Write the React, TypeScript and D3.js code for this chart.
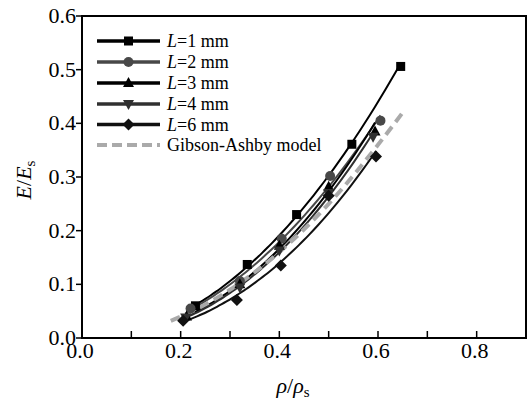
import React from "react";
import * as d3 from "d3";

const seriesNames = ["L=1 mm", "L=2 mm", "L=3 mm", "L=4 mm", "L=6 mm"];
const rhoL1 = [0.23, 0.335, 0.435, 0.547, 0.646];
const eL1 = [0.06, 0.137, 0.23, 0.361, 0.506];
const rhoL2 = [0.22, 0.32, 0.405, 0.503, 0.605];
const eL2 = [0.055, 0.106, 0.185, 0.302, 0.405];
const rhoL3 = [0.212, 0.32, 0.4, 0.5, 0.594];
const eL3 = [0.04, 0.1, 0.172, 0.282, 0.385];
const rhoL4 = [0.21, 0.32, 0.4, 0.5, 0.59];
const eL4 = [0.038, 0.094, 0.163, 0.27, 0.375];
const rhoL6 = [0.205, 0.314, 0.403, 0.5, 0.596];
const eL6 = [0.032, 0.071, 0.135, 0.265, 0.338];
const rhoGA = [0.18, 0.25, 0.3, 0.4, 0.5, 0.6, 0.65];
const eGA = [0.032, 0.0625, 0.09, 0.16, 0.25, 0.36, 0.42];
const xTicks = [0, 0.1, 0.2, 0.3, 0.4, 0.5, 0.6, 0.7, 0.8];
const xLabels = [0, 0.2, 0.4, 0.6, 0.8];
const yTicks = [0, 0.1, 0.2, 0.3, 0.4, 0.5, 0.6];

const series = [
  { name: seriesNames[0], x: rhoL1, y: eL1, color: "#000", sym: "square" },
  { name: seriesNames[1], x: rhoL2, y: eL2, color: "#484848", sym: "circle" },
  { name: seriesNames[2], x: rhoL3, y: eL3, color: "#000", sym: "triangle" },
  { name: seriesNames[3], x: rhoL4, y: eL4, color: "#303030", sym: "invtri" },
  { name: seriesNames[4], x: rhoL6, y: eL6, color: "#111", sym: "diamond" },
];

const FONT = "Liberation Serif, Times New Roman, DejaVu Serif, serif";

function fitPower(xs: number[], ys: number[]) {
  const lx = xs.map(Math.log);
  const ly = ys.map(Math.log);
  const mx = d3.mean(lx)!;
  const my = d3.mean(ly)!;
  let num = 0, den = 0;
  lx.forEach((v, i) => { num += (v - mx) * (ly[i] - my); den += (v - mx) * (v - mx); });
  const b = num / den;
  const a = Math.exp(my - b * mx);
  return (x: number) => a * Math.pow(x, b);
}

function Marker({ sym, cx, cy, color }: { sym: string; cx: number; cy: number; color: string }) {
  if (sym === "square") return <rect x={cx - 4.5} y={cy - 4.5} width={9} height={9} fill={color} />;
  if (sym === "circle") return <circle cx={cx} cy={cy} r={5} fill={color} />;
  if (sym === "triangle") return <path d={`M${cx},${cy - 6}L${cx + 5.5},${cy + 4}L${cx - 5.5},${cy + 4}Z`} fill={color} />;
  if (sym === "invtri") return <path d={`M${cx},${cy + 6}L${cx + 5.5},${cy - 4}L${cx - 5.5},${cy - 4}Z`} fill={color} />;
  return <path d={`M${cx},${cy - 6}L${cx + 6},${cy}L${cx},${cy + 6}L${cx - 6},${cy}Z`} fill={color} />;
}

export default function App() {
  const W = 528, H = 407;
  const left = 82, right = 526, top = 16, bottom = 338;
  const x = d3.scaleLinear().domain([0, 0.9]).range([left, right]);
  const y = d3.scaleLinear().domain([0, 0.6]).range([bottom, top]);
  const line = d3.line<[number, number]>().x(d => x(d[0])).y(d => y(d[1])).curve(d3.curveMonotoneX);

  const legendRows = [41, 62, 83, 104, 124.5, 145];
  const tStyle = { fontFamily: FONT };

  return (
    <svg width={W} height={H} style={{ position: "absolute", left: 0, top: 0, background: "#fff", fontFamily: FONT }}>
      {series.map((s, i) => {
        const f = fitPower(s.x, s.y);
        const x0 = d3.min(s.x)!, x1 = d3.max(s.x)!;
        const pts: [number, number][] = d3.range(0, 41).map(k => {
          const xv = x0 + (x1 - x0) * k / 40;
          return [xv, f(xv)];
        });
        return <path key={"c" + i} d={line(pts)!} fill="none" stroke={s.color} strokeWidth={2} />;
      })}
      <path d={d3.line<number>().x((d, i) => x(rhoGA[i])).y(d => y(d)).curve(d3.curveMonotoneX)(eGA)!} fill="none" stroke="#aaaaaa" strokeWidth={4} strokeDasharray="10,6" />
      {series.map((s, i) => s.x.map((xv, j) => (
        <Marker key={`m${i}-${j}`} sym={s.sym} cx={x(xv)} cy={y(s.y[j])} color={s.color} />
      )))}
      <rect x={left} y={top} width={right - left} height={bottom - top} fill="none" stroke="#000" strokeWidth={2} />
      {xTicks.map(t => (
        <line key={"xt" + t} x1={x(t)} x2={x(t)} y1={bottom} y2={bottom - 7} stroke="#000" strokeWidth={1.5} />
      ))}
      {xLabels.map(t => (
        <text key={"xl" + t} style={tStyle} x={x(t) - 2} y={358} textAnchor="middle" fontSize={22} fill="#000">{t.toFixed(1)}</text>
      ))}
      {yTicks.map(t => (
        <g key={"yt" + t}>
          <line x1={left - 6} x2={left} y1={y(t)} y2={y(t)} stroke="#000" strokeWidth={1.5} />
          <text style={tStyle} x={76} y={y(t) + 7} textAnchor="end" fontSize={22} fill="#000">{t.toFixed(1)}</text>
        </g>
      ))}
      <text style={tStyle} x={293} y={393} textAnchor="middle" fontSize={22} fill="#000">
        <tspan fontStyle="italic">ρ</tspan>/<tspan fontStyle="italic">ρ</tspan><tspan fontSize={15} dy={4}>s</tspan>
      </text>
      <text style={tStyle} transform="translate(31,180) rotate(-90)" textAnchor="middle" fontSize={22} fill="#000">
        <tspan fontStyle="italic">E</tspan>/<tspan fontStyle="italic">E</tspan><tspan fontSize={15} dy={4}>s</tspan>
      </text>
      {series.map((s, i) => {
        const ly = legendRows[i];
        const parts = s.name.split("=");
        return (
          <g key={"lg" + i}>
            <line x1={97} x2={160} y1={ly} y2={ly} stroke={s.color} strokeWidth={3.5} />
            <Marker sym={s.sym} cx={128.5} cy={ly} color={s.color} />
            <text style={tStyle} x={167} y={ly + 6} fontSize={18} fill="#000">
              <tspan fontStyle="italic">{parts[0]}</tspan>={parts[1]}
            </text>
          </g>
        );
      })}
      <line x1={97} x2={160} y1={legendRows[5]} y2={legendRows[5]} stroke="#aaaaaa" strokeWidth={4} strokeDasharray="10,5" />
      <text style={tStyle} x={167} y={legendRows[5] + 6} fontSize={18} fill="#000">Gibson-Ashby model</text>
    </svg>
  );
}
